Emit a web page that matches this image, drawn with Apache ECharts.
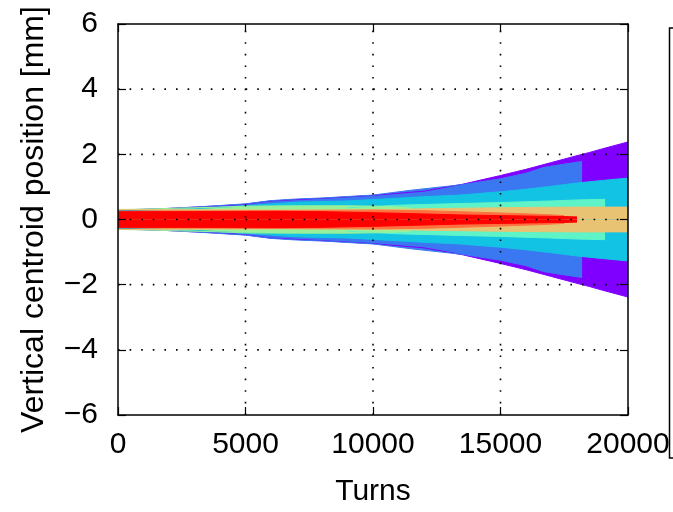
<!DOCTYPE html>
<html>
<head>
<meta charset="utf-8">
<script src="https://cdn.jsdelivr.net/npm/echarts@6/dist/echarts.min.js"></script>
<style>
html,body{margin:0;padding:0;background:#fff;}
#chart{width:673px;height:512px;}
</style>
</head>
<body>
<div id="chart"></div>
<script>
// ---- data (half-widths of the centroid envelopes, mm) ----
var xTicks = [0, 5000, 10000, 15000, 20000];
var yTicks = [-6, -4, -2, 0, 2, 4, 6];

var turnsPurple = [0, 2000, 4000, 5000, 6000, 8000, 10000, 12000, 13500, 15000, 16000, 17000, 18000, 18500, 19000, 20000];
var purple      = [0.28, 0.34, 0.42, 0.47, 0.57, 0.65, 0.74, 0.87, 1.08, 1.35, 1.54, 1.75, 1.96, 2.06, 2.17, 2.38];

var turnsBlue = [0, 2000, 3200, 5000, 6000, 7000, 8000, 10000, 11500, 13500, 15000, 16000, 16700, 17500, 18200];
var blue      = [0.29, 0.34, 0.39, 0.48, 0.58, 0.63, 0.66, 0.75, 0.9, 1.07, 1.25, 1.42, 1.6, 1.7, 1.78];

var turnsCyan = [0, 3000, 5000, 7000, 9000, 10000, 12000, 13400, 15000, 16000, 17000, 18000, 19000, 20000];
var cyan      = [0.27, 0.33, 0.42, 0.53, 0.57, 0.61, 0.7, 0.75, 0.85, 0.93, 1.02, 1.12, 1.2, 1.27];

var turnsAqua = [9000, 10000, 11000, 12000, 13400, 15000, 17000, 18000, 19100];
var aqua      = [0.36, 0.4, 0.44, 0.46, 0.49, 0.52, 0.57, 0.6, 0.62];

var turnsGreen = [0, 2000, 4000, 5000, 7000, 9000, 10000, 11000, 11500];
var green      = [0.3, 0.34, 0.38, 0.41, 0.42, 0.42, 0.41, 0.38, 0.35];

var turnsOrange = [0, 3000, 6000, 9000, 11000, 12000, 14000, 16000, 18000, 20000];
var orange      = [0.31, 0.3, 0.29, 0.29, 0.31, 0.33, 0.35, 0.37, 0.38, 0.38];

var turnsCoral = [0, 4000, 7000, 10000, 12000, 13400, 15000, 16500, 17500];
var coral      = [0.25, 0.26, 0.28, 0.29, 0.27, 0.24, 0.2, 0.16, 0.12];

var turnsRed = [0, 3000, 6000, 8000, 10000, 12000, 13400, 15000, 16500, 17500, 18000];
var red      = [0.25, 0.25, 0.25, 0.24, 0.21, 0.17, 0.14, 0.12, 0.1, 0.09, 0.08];

var bands = [
  {t: turnsPurple, v: purple, c: '#8000ff'},
  {t: turnsBlue,   v: blue,   c: '#3a78f2'},
  {t: turnsCyan,   v: cyan,   c: '#13c3e3'},
  {t: turnsAqua,   v: aqua,   c: '#5ff3c8'},
  {t: turnsGreen,  v: green,  c: '#98f098'},
  {t: turnsOrange, v: orange, c: '#e8c373'},
  {t: turnsCoral,  v: coral,  c: '#ff7040'},
  {t: turnsRed,    v: red,    c: '#ff0000'}
];

var series = [];
bands.forEach(function (b) {
  [1, -1].forEach(function (s) {
    series.push({
      type: 'line',
      data: b.t.map(function (x, i) { return [x, s * b.v[i]]; }),
      symbol: 'none',
      silent: true,
      lineStyle: {width: 1, color: b.c},
      areaStyle: {color: b.c, opacity: 1, origin: 0},
      z: 2
    });
  });
});

// dotted grid drawn on top of the bands (from the tick arrays)
var xMin = xTicks[0], xMax = xTicks[xTicks.length - 1];
var yMin = yTicks[0], yMax = yTicks[yTicks.length - 1];
var dotted = {color: '#000', width: 1.6, type: [1.6, 10], cap: 'butt'};
xTicks.slice(1, -1).forEach(function (v) {
  series.push({type: 'line', data: [[v, yMin], [v, yMax]], symbol: 'none', silent: true,
               lineStyle: dotted, z: 8});
});
yTicks.slice(1, -1).forEach(function (v) {
  series.push({type: 'line', data: [[xMin, v], [xMax, v]], symbol: 'none', silent: true,
               lineStyle: dotted, z: 8});
});

var FONT = 'Liberation Sans, Arial, Helvetica, sans-serif';
function fmtY(v) { return v < 0 ? '\u2212' + Math.abs(v) : String(v); }
function fmtX(v) { return String(v); }

var tickStyle = {show: true, inside: true, length: 8, lineStyle: {color: '#000', width: 1.2}};
var lineStyle = {show: true, onZero: false, lineStyle: {color: '#000', width: 1.5}};

var chart = echarts.init(document.getElementById('chart'), null, {renderer: 'canvas'});
chart.setOption({
  animation: false,
  backgroundColor: '#fff',
  grid: {left: 118, right: 45, top: 24, bottom: 97, containLabel: false},
  xAxis: [{
    type: 'value', min: xMin, max: xMax, interval: 5000,
    position: 'bottom', z: 10,
    name: 'Turns', nameLocation: 'middle', nameGap: 62,
    nameTextStyle: {fontFamily: FONT, fontSize: 30, color: '#000'},
    axisLine: lineStyle, axisTick: tickStyle,
    axisLabel: {fontFamily: FONT, fontSize: 30, color: '#000', margin: 15, formatter: fmtX},
    splitLine: {show: false}
  }, {
    type: 'value', min: xMin, max: xMax, interval: 5000,
    position: 'top', z: 10,
    axisLine: lineStyle, axisTick: tickStyle,
    axisLabel: {show: false}, splitLine: {show: false}
  }],
  yAxis: [{
    type: 'value', min: yMin, max: yMax, interval: 2,
    position: 'left', z: 10,
    name: 'Vertical centroid position [mm]', nameLocation: 'middle', nameGap: 68,
    nameTextStyle: {fontFamily: FONT, fontSize: 32, color: '#000'},
    axisLine: lineStyle, axisTick: tickStyle,
    axisLabel: {fontFamily: FONT, fontSize: 30, color: '#000', margin: 20, formatter: fmtY},
    splitLine: {show: false}
  }, {
    type: 'value', min: yMin, max: yMax, interval: 2,
    position: 'right', z: 10,
    axisLine: lineStyle, axisTick: tickStyle,
    axisLabel: {show: false}, splitLine: {show: false}
  }],
  graphic: [
    {type: 'polyline', shape: {points: [[675, 28], [669.5, 28], [669.5, 458], [675, 458]]},
     style: {stroke: '#000', lineWidth: 1.5, fill: null}, z: 20}
  ],
  series: series
});
</script>
</body>
</html>
